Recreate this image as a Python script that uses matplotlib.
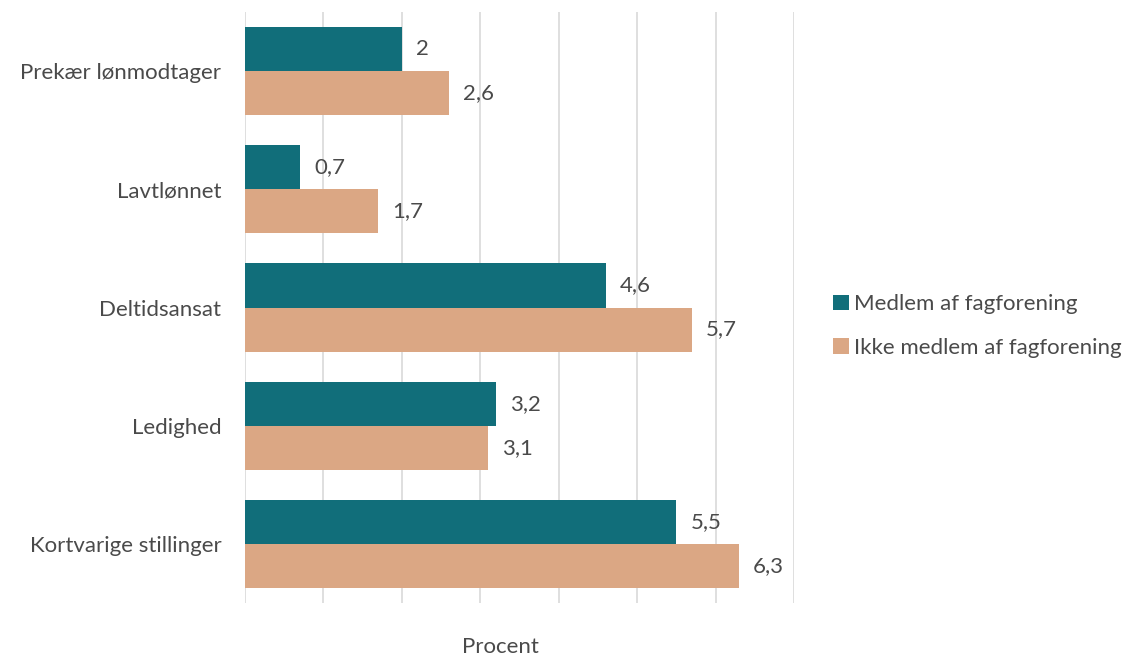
import matplotlib.pyplot as plt
import numpy as np

plt.rcParams['font.family'] = ['Lato', 'DejaVu Sans']

categories = ["Prekær lønmodtager", "Lavtlønnet", "Deltidsansat", "Ledighed", "Kortvarige stillinger"]
medlem = [2.0, 0.7, 4.6, 3.2, 5.5]
ikke_medlem = [2.6, 1.7, 5.7, 3.1, 6.3]
series_names = ["Medlem af fagforening", "Ikke medlem af fagforening"]

teal = "#116E7A"
tan = "#DBA784"
txt = "#4A4A4A"

fig = plt.figure(figsize=(11.42, 6.57), dpi=100)
W, H = 1142, 657
ax = fig.add_axes([245 / W, 1 - 603 / H, (794 - 245) / W, (603 - 12) / H])

y = np.arange(len(categories))
h = 0.373
b1 = ax.barh(y - h / 2, medlem, height=h, color=teal, label=series_names[0], zorder=3)
b2 = ax.barh(y + h / 2, ikke_medlem, height=h, color=tan, label=series_names[1], zorder=3)

def fmt(v):
    s = f"{v:.1f}".replace(".", ",")
    return s[:-2] if s.endswith(",0") else s

for bars, vals in ((b1, medlem), (b2, ikke_medlem)):
    for rect, v in zip(bars, vals):
        ax.text(v + 0.18, rect.get_y() + rect.get_height() / 2, fmt(v),
                va="center", ha="left", fontsize=16, color=txt)

ax.set_xlim(0, 7)
ax.set_ylim(len(categories) - 0.5, -0.5)
ax.set_xticks(range(0, 8))
ax.set_xticklabels([])
ax.tick_params(axis="x", length=0)
ax.grid(axis="x", color="#D9D9D9", linewidth=1.2, zorder=0)
ax.set_yticks(y)
ax.set_yticklabels(categories, fontsize=16, color=txt)
ax.tick_params(axis="y", length=0, pad=17)
for s in ax.spines.values():
    s.set_visible(False)

fig.text(500 / W, 1 - 647 / H, "Procent", ha="center", va="center", fontsize=16, color=txt)

fig.legend(handles=[b1, b2], loc="center left", bbox_to_anchor=(813 / W, 1 - 326 / H),
           frameon=False, fontsize=16, labelcolor=txt, handlelength=0.7, handleheight=0.7,
           handletextpad=0.25, labelspacing=1.05)

fig.savefig("out.png", dpi=100, facecolor="white")
